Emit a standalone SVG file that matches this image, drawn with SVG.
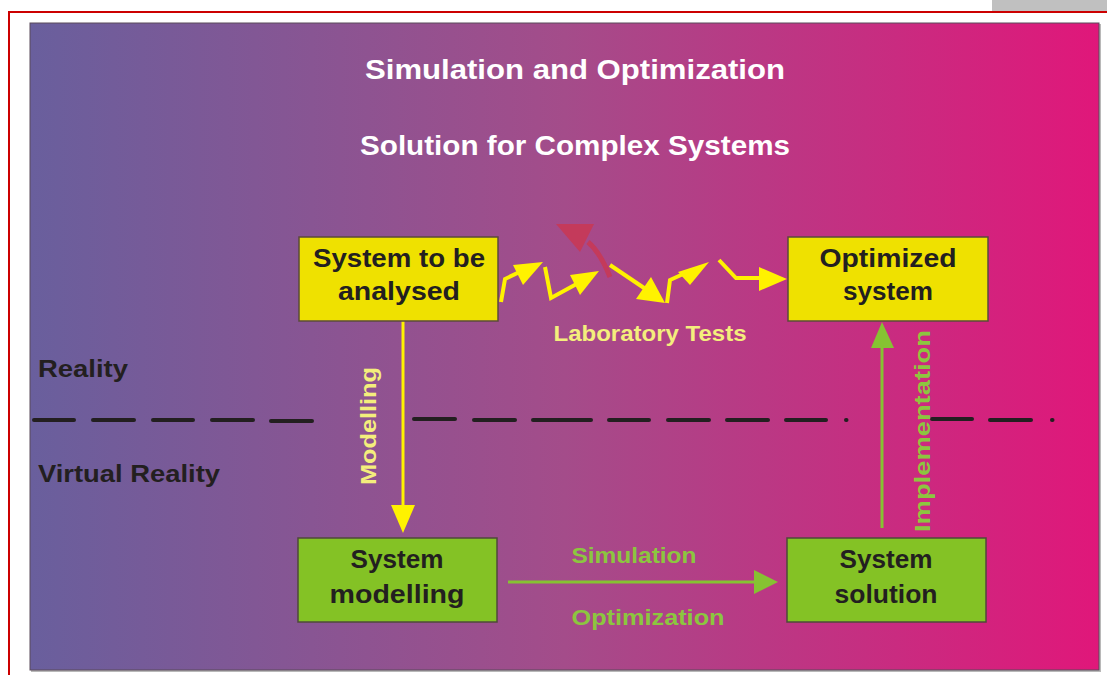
<svg xmlns="http://www.w3.org/2000/svg" width="1107" height="675" viewBox="0 0 1107 675">
<defs>
<linearGradient id="bg" x1="0" y1="0" x2="1" y2="0">
<stop offset="0" stop-color="#695f9d"/>
<stop offset="0.5" stop-color="#a44c8a"/>
<stop offset="1" stop-color="#e0177a"/>
</linearGradient>
<style>
text{font-family:"Liberation Sans",Arial,sans-serif;font-weight:bold}
.title{fill:#ffffff;font-size:27px}
.box text{fill:#231f20;font-size:26px;text-anchor:middle}
.ybox{fill:#efe100;stroke:#5b4a3c;stroke-width:1.5}
.gbox{fill:#84c225;stroke:#4f4a3a;stroke-width:1.5}
.side{fill:#231f20;font-size:24px}
.ylab{fill:#f4ee7c;font-size:22px}
.glab{fill:#8cc63f;font-size:22px}
.zz{fill:none;stroke:#fff200;stroke-width:4;stroke-linejoin:miter}
.zh{fill:#fff200}
.dash{stroke:#231f20;stroke-width:4;stroke-linecap:round}
</style>
</defs>
<rect x="992" y="0" width="115" height="11" fill="#c0c0c0"/>
<rect x="9" y="12" width="1110" height="680" fill="none" stroke="#cc0000" stroke-width="2"/>
<rect x="31" y="24" width="1070" height="648" fill="#b8b8b8"/>
<rect x="30" y="23" width="1069" height="647" fill="url(#bg)" stroke="#5a4a5a" stroke-width="1"/>

<g id="titles">
<text class="title" x="575" y="79" text-anchor="middle" textLength="420" lengthAdjust="spacingAndGlyphs">Simulation and Optimization</text>
<text class="title" x="575" y="155" text-anchor="middle" textLength="430" lengthAdjust="spacingAndGlyphs">Solution for Complex Systems</text>
</g>

<g id="zones">
<text class="side" x="38" y="377" textLength="90" lengthAdjust="spacingAndGlyphs">Reality</text>
<text class="side" x="38" y="482" textLength="182" lengthAdjust="spacingAndGlyphs">Virtual Reality</text>
<g id="divider">
<line class="dash" x1="34" y1="420" x2="74" y2="420"/>
<line class="dash" x1="93" y1="420" x2="134" y2="420"/>
<line class="dash" x1="153" y1="420" x2="193" y2="420"/>
<line class="dash" x1="212" y1="420" x2="253" y2="420"/>
<line class="dash" x1="271" y1="421" x2="312" y2="421"/>
<line class="dash" x1="414" y1="419" x2="455" y2="419"/>
<line class="dash" x1="474" y1="420" x2="515" y2="420"/>
<line class="dash" x1="533" y1="420" x2="574" y2="420"/>
<line class="dash" x1="560" y1="420" x2="591" y2="420"/>
<line class="dash" x1="609" y1="420" x2="649" y2="420"/>
<line class="dash" x1="668" y1="420" x2="709" y2="420"/>
<line class="dash" x1="727" y1="420" x2="768" y2="420"/>
<line class="dash" x1="786" y1="420" x2="826" y2="420"/>
<line class="dash" x1="846" y1="420" x2="846.5" y2="420"/>
<line class="dash" x1="932" y1="419" x2="972" y2="419"/>
<line class="dash" x1="990" y1="420" x2="1031" y2="420"/>
<line class="dash" x1="1052" y1="420" x2="1052.5" y2="420"/>
</g>
</g>

<g id="connectors">
<g id="modelling-arrow">
<line x1="403" y1="321" x2="403" y2="508" stroke="#fff200" stroke-width="3"/>
<polygon points="391,505 415,505 403,533" fill="#fff200"/>
<text class="ylab" transform="translate(376,426) rotate(-90)" text-anchor="middle" textLength="118" lengthAdjust="spacingAndGlyphs">Modelling</text>
</g>
<g id="implementation-arrow">
<line x1="882" y1="528" x2="882" y2="345" stroke="#86c232" stroke-width="3"/>
<polygon points="871,348 894,348 882,322" fill="#86c232"/>
<text class="glab" transform="translate(930,431) rotate(-90)" text-anchor="middle" textLength="202" lengthAdjust="spacingAndGlyphs">Implementation</text>
</g>
<g id="simulation-arrow">
<line x1="508" y1="582" x2="758" y2="582" stroke="#86c232" stroke-width="3"/>
<polygon points="754,570 778,582 754,594" fill="#86c232"/>
<text class="glab" x="634" y="563" text-anchor="middle" textLength="125" lengthAdjust="spacingAndGlyphs">Simulation</text>
<text class="glab" x="648" y="625" text-anchor="middle" textLength="153" lengthAdjust="spacingAndGlyphs">Optimization</text>
</g>
<g id="lab-tests">
<path class="zz" d="M501,302 L505,279 L528,268"/>
<polygon class="zh" points="513,265 543,262 523,285"/>
<path class="zz" d="M545,267 L551,298 L582,281"/>
<polygon class="zh" points="570,275 599,271 580,295"/>
<path d="M610,277 Q600,252 588,242" fill="none" stroke="#c43a5b" stroke-width="5"/>
<polygon points="556,224 594,224 580,252" fill="#c43a5b"/>
<path class="zz" d="M610,265 L650,292"/>
<polygon class="zh" points="636,299 665,303 651,277"/>
<path class="zz" d="M667,303 L670,280 L692,270"/>
<polygon class="zh" points="678,272 709,262 690,285"/>
<path class="zz" d="M719,260 L736,278 L765,278"/>
<polygon class="zh" points="759,267 787,279 759,291"/>
<text class="ylab" x="650" y="341" text-anchor="middle" textLength="193" lengthAdjust="spacingAndGlyphs">Laboratory Tests</text>
</g>
</g>

<g id="node-system-analysed" class="box">
<rect class="ybox" x="299" y="237" width="199" height="84"/>
<text x="399" y="267" textLength="172" lengthAdjust="spacingAndGlyphs">System to be</text>
<text x="399" y="300" textLength="122" lengthAdjust="spacingAndGlyphs">analysed</text>
</g>
<g id="node-optimized-system" class="box">
<rect class="ybox" x="788" y="237" width="200" height="84"/>
<text x="888" y="267" textLength="137" lengthAdjust="spacingAndGlyphs">Optimized</text>
<text x="888" y="300" textLength="90" lengthAdjust="spacingAndGlyphs">system</text>
</g>
<g id="node-system-modelling" class="box">
<rect class="gbox" x="298" y="538" width="199" height="84"/>
<text x="397" y="568" textLength="93" lengthAdjust="spacingAndGlyphs">System</text>
<text x="397" y="603" textLength="135" lengthAdjust="spacingAndGlyphs">modelling</text>
</g>
<g id="node-system-solution" class="box">
<rect class="gbox" x="787" y="538" width="199" height="84"/>
<text x="886" y="568" textLength="93" lengthAdjust="spacingAndGlyphs">System</text>
<text x="886" y="603" textLength="103" lengthAdjust="spacingAndGlyphs">solution</text>
</g>
</svg>
